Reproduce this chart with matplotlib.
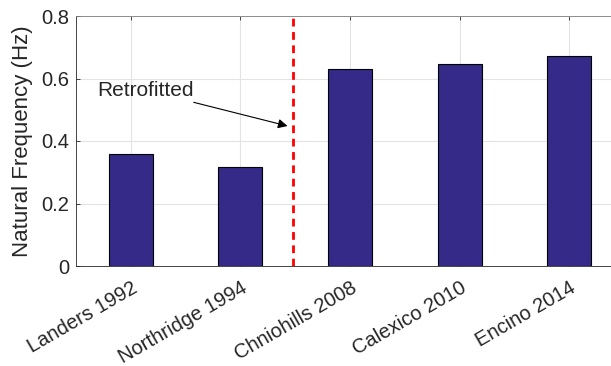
import numpy as np
import matplotlib.pyplot as plt
import matplotlib.transforms as mtransforms

plt.rcParams['font.family'] = ['Liberation Sans', 'DejaVu Sans']

events = ['Landers 1992', 'Northridge 1994', 'Chniohills 2008', 'Calexico 2010', 'Encino 2014']
freq = [0.358, 0.318, 0.629, 0.647, 0.671]
retrofit_x = 2.48

fig = plt.figure(figsize=(6.11, 3.66), dpi=100)
# axes run a little past the right edge of the figure
ax = fig.add_axes([76 / 611, 100 / 366, 548 / 611, 250 / 366])

x = np.arange(1, len(events) + 1)
ax.bar(x, freq, width=0.4, color='#352a87', edgecolor='black', linewidth=0.8, zorder=3)

ax.plot([retrofit_x, retrofit_x], [0, 0.8], color='#ff0000', linestyle=(0, (2.8, 2.0)),
        linewidth=2, zorder=4)
ax.annotate('Retrofitted', xy=(2.43, 0.448), xytext=(0.69, 0.563),
            fontsize=15, va='center', ha='left', color='#262626',
            arrowprops=dict(arrowstyle='-|>', color='black', lw=0.8,
                            mutation_scale=14, shrinkA=0, shrinkB=0), zorder=5)

ax.set_xlim(0.5, 5.5)
ax.set_ylim(0, 0.8)
ax.set_xticks(x)
ax.set_xticklabels(events, rotation=30, ha='right', va='center', rotation_mode='anchor')
ax.set_yticks([0, 0.2, 0.4, 0.6, 0.8])
ax.set_yticklabels(['0', '0.2', '0.4', '0.6', '0.8'])
ax.tick_params(axis='both', direction='in', labelsize=14.5, colors='#262626',
               length=3, width=0.6, top=True, right=True)
ax.tick_params(axis='x', pad=15)
ax.tick_params(axis='y', pad=5)
ax.set_ylabel('Natural Frequency (Hz)', fontsize=16, color='#262626', labelpad=6)

# nudge rotated labels a bit to the right of their ticks
shift = mtransforms.ScaledTranslation(5 / 100, 0, fig.dpi_scale_trans)
for lbl in ax.get_xticklabels():
    lbl.set_transform(lbl.get_transform() + shift)

ax.grid(True, color='#e3e3e3', linewidth=0.8, zorder=0)
for side in ['top', 'bottom', 'left', 'right']:
    ax.spines[side].set_color('#262626')
    ax.spines[side].set_linewidth(0.6)
ax.spines['top'].set_color('#808080')

fig.savefig('out.png', dpi=100)
